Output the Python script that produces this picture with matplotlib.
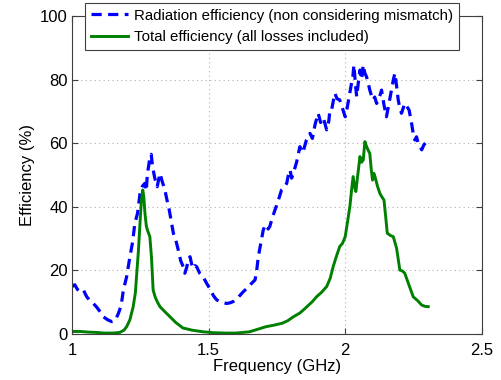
import matplotlib
matplotlib.use("Agg")
import matplotlib.pyplot as plt

plt.rcParams['font.family'] = ['Liberation Sans', 'DejaVu Sans']

# Radiation efficiency (dashed blue)
rad_f = [1.000, 1.010, 1.020, 1.030, 1.042, 1.054, 1.066, 1.078, 1.090, 1.103, 1.115,
         1.130, 1.145, 1.158, 1.170, 1.180, 1.188, 1.200, 1.212, 1.222, 1.230, 1.240,
         1.249, 1.258, 1.267, 1.272, 1.276, 1.281, 1.285, 1.290, 1.295, 1.303, 1.312,
         1.317, 1.322, 1.330, 1.340, 1.348, 1.356, 1.364, 1.371, 1.380, 1.389, 1.398,
         1.407, 1.413, 1.420, 1.426, 1.432, 1.438, 1.444, 1.450, 1.456, 1.468, 1.480,
         1.493, 1.505, 1.518, 1.530, 1.548, 1.566, 1.578, 1.590, 1.608, 1.627, 1.642,
         1.657, 1.670, 1.676, 1.682, 1.690, 1.700, 1.706, 1.712, 1.718, 1.724, 1.733,
         1.743, 1.755, 1.767, 1.776, 1.786, 1.792, 1.798, 1.804, 1.810, 1.822, 1.834,
         1.845, 1.858, 1.871, 1.880, 1.890, 1.901, 1.910, 1.920, 1.932, 1.940, 1.944,
         1.950, 1.956, 1.962, 1.970, 1.980, 1.990, 2.000, 2.005, 2.011, 2.017, 2.023,
         2.028, 2.032, 2.037, 2.042, 2.048, 2.054, 2.060, 2.066, 2.072, 2.078, 2.084,
         2.090, 2.096, 2.102, 2.108, 2.115, 2.124, 2.133, 2.142, 2.151, 2.157, 2.163,
         2.170, 2.176, 2.182, 2.188, 2.194, 2.200, 2.206, 2.212, 2.218, 2.226, 2.234,
         2.243, 2.249, 2.255, 2.261, 2.267, 2.273, 2.280, 2.288, 2.298]
rad_e = [14.9, 15.5, 14.0, 13.3, 13.8, 11.7, 10.5, 9.6, 8.5, 7.0, 5.4,
         4.5, 3.9, 4.2, 6.5, 9.0, 13.8, 18.0, 24.3, 29.0, 34.8, 38.0,
         44.2, 46.5, 47.4, 45.0, 50.5, 53.0, 55.8, 56.5, 52.6, 49.0, 46.3,
         48.5, 50.5, 48.0, 45.3, 42.0, 39.0, 35.0, 31.7, 29.5, 26.4, 23.0,
         21.2, 19.1, 21.0, 23.5, 24.3, 22.0, 20.6, 21.5, 21.2, 19.0, 18.0,
         15.9, 14.2, 12.0, 10.7, 10.0, 9.6, 9.8, 10.2, 11.5, 13.3, 14.5,
         15.9, 17.0, 20.0, 24.3, 28.0, 32.7, 34.0, 34.3, 33.0, 33.8, 36.5,
         39.0, 42.0, 45.3, 46.0, 47.4, 50.0, 51.6, 49.0, 50.5, 54.0, 58.9,
         57.0, 61.0, 63.1, 61.5, 66.0, 69.4, 66.5, 68.0, 64.2, 67.0, 70.4,
         70.4, 73.0, 75.7, 74.0, 73.6, 71.0, 68.3, 70.0, 73.0, 76.0, 78.8,
         81.0, 84.6, 79.0, 74.6, 79.0, 83.0, 80.0, 84.6, 82.0, 80.9, 79.0,
         76.7, 75.0, 73.6, 74.5, 72.5, 74.0, 76.7, 72.0, 68.3, 71.0, 73.6,
         77.0, 79.9, 82.0, 78.0, 73.6, 71.0, 69.4, 71.0, 72.5, 71.5, 70.4,
         66.2, 63.0, 61.0, 62.0, 60.0, 59.0, 57.9, 59.5, 60.5]

# Total efficiency (solid green)
tot_f = [1.000, 1.030, 1.060, 1.090, 1.120, 1.150, 1.175, 1.190, 1.200, 1.212, 1.224,
         1.232, 1.237, 1.243, 1.249, 1.254, 1.259, 1.263, 1.267, 1.272, 1.276, 1.285,
         1.291, 1.297, 1.305, 1.313, 1.322, 1.340, 1.359, 1.380, 1.406, 1.440, 1.480,
         1.520, 1.560, 1.600, 1.650, 1.680, 1.710, 1.740, 1.770, 1.790, 1.810, 1.834,
         1.850, 1.865, 1.880, 1.895, 1.912, 1.932, 1.945, 1.956, 1.968, 1.980, 1.990,
         2.000, 2.008, 2.017, 2.023, 2.029, 2.035, 2.039, 2.046, 2.054, 2.060, 2.066,
         2.072, 2.078, 2.084, 2.090, 2.095, 2.100, 2.105, 2.109, 2.118, 2.127, 2.135,
         2.142, 2.148, 2.154, 2.165, 2.176, 2.188, 2.200, 2.210, 2.218, 2.233, 2.249,
         2.265, 2.280, 2.292, 2.304]
tot_e = [0.8, 0.8, 0.6, 0.5, 0.3, 0.3, 0.5, 1.2, 2.3, 4.5, 8.6,
         13.0, 19.0, 26.0, 35.0, 42.0, 45.3, 43.0, 38.0, 34.0, 32.7, 30.6,
         24.0, 13.8, 11.5, 10.0, 8.6, 7.0, 5.4, 3.6, 1.9, 1.2, 0.7,
         0.4, 0.3, 0.3, 0.7, 1.5, 2.3, 2.8, 3.4, 4.2, 5.4, 6.6,
         7.8, 9.0, 10.2, 11.7, 13.0, 14.9, 17.5, 21.2, 24.5, 27.5, 28.5,
         30.6, 35.0, 40.0, 45.0, 49.5, 46.0, 44.8, 50.0, 55.8, 54.0, 54.7,
         60.5, 59.0, 57.8, 56.8, 52.0, 48.4, 50.5, 49.5, 46.5, 44.2, 43.0,
         42.1, 37.0, 31.7, 31.0, 30.6, 27.0, 20.1, 19.8, 19.1, 15.5, 11.7,
         10.5, 9.1, 8.7, 8.6]

fig = plt.figure(figsize=(5.01, 3.80), dpi=100)
ax = fig.add_axes([0.1437, 0.121, 0.818, 0.837])

ax.plot(rad_f, rad_e, color='#0000FF', lw=2.3, ls='--', dashes=(3.2, 2.0),
        label='Radiation efficiency (non considering mismatch)')
ax.plot(tot_f, tot_e, color='#008000', lw=2.1, ls='-',
        label='Total efficiency (all losses included)')

ax.set_xlim(1, 2.5)
ax.set_ylim(0, 100)
ax.set_xticks([1, 1.5, 2, 2.5])
ax.set_xticklabels(['1', '1.5', '2', '2.5'])
ax.set_yticks([0, 20, 40, 60, 80, 100])
ax.grid(True, color='#b0b0b0', ls=(0, (1, 3)), lw=0.8)
ax.tick_params(direction='in', top=True, right=True, labelsize=12, length=4,
               color='#404040', pad=3)
ax.tick_params(axis='x', pad=6.5)
for s in ax.spines.values():
    s.set_color('#404040')
    s.set_linewidth(0.8)

ax.set_xlabel('Frequency (GHz)', fontsize=12, labelpad=1)
ax.set_ylabel('Efficiency (%)', fontsize=12, labelpad=4)

leg = ax.legend(loc='upper left', bbox_to_anchor=(85 / 501, 1 - 3 / 380),
                bbox_transform=fig.transFigure, fontsize=10.8, frameon=True,
                fancybox=False, edgecolor='#404040', framealpha=1,
                handlelength=2.5, borderpad=0.38, labelspacing=0.5,
                handletextpad=0.4, borderaxespad=0)
leg.get_frame().set_linewidth(0.8)

fig.savefig('out.png', dpi=100)
